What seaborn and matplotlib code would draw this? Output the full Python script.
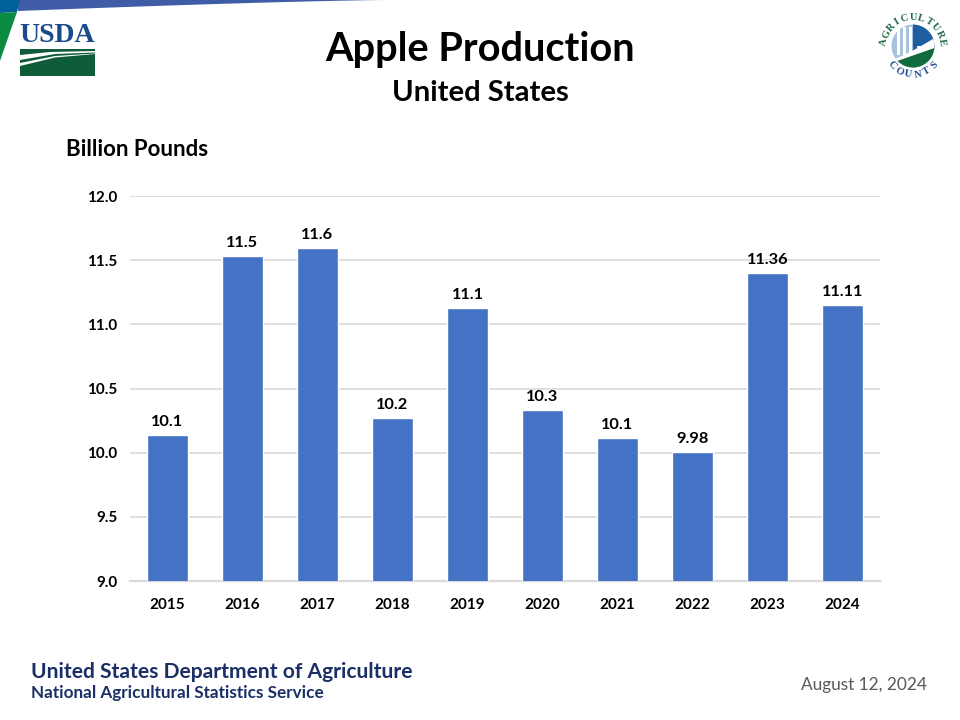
import numpy as np
import pandas as pd
import matplotlib
matplotlib.use("Agg")
import matplotlib.pyplot as plt
from matplotlib.patches import Circle, Polygon, Rectangle, Wedge
import seaborn as sns

years = ["2015", "2016", "2017", "2018", "2019", "2020", "2021", "2022", "2023", "2024"]
production = [10.135, 11.53, 11.595, 10.27, 11.125, 10.33, 10.115, 10.005, 11.4, 11.15]
bar_labels = ["10.1", "11.5", "11.6", "10.2", "11.1", "10.3", "10.1", "9.98", "11.36", "11.11"]
y_ticks = [9.0, 9.5, 10.0, 10.5, 11.0, 11.5, 12.0]

BAR_COLOR = "#4472C4"
GRID_COLOR = "#D9D9D9"
NAVY = "#1B2F66"
LOGO_GREEN = "#0F5C38"
LOGO_BLUE = "#1B4B8C"

sns.set_theme(style="white")
plt.rcParams["font.family"] = ["Lato", "DejaVu Sans"]

W, H = 960, 720
fig = plt.figure(figsize=(W / 100, H / 100), dpi=100, facecolor="white")

# overlay in pixel coords for the slide furniture
deco = fig.add_axes([0, 0, 1, 1])
deco.set_xlim(0, W)
deco.set_ylim(H, 0)
deco.axis("off")

# top band
xs = np.linspace(18, 385, 40)
edge = 11 * (1 - (xs - 18) / 367) ** 1.3
deco.add_patch(Polygon(list(zip(xs, edge)) + [(385, 0), (18, 0)], color="#3F5CA6", lw=0))
deco.add_patch(Polygon([(0, 0), (20, 0), (17, 12), (0, 13)], color="#00609A", lw=0))
deco.add_patch(Polygon([(0, 13), (17, 12), (0, 61)], color="#0B8A43", lw=0))

# USDA logo
deco.text(57.5, 36, "USDA", family="Liberation Serif", fontsize=20, fontweight="bold",
          color=LOGO_BLUE, ha="center", va="center")
deco.add_patch(Polygon([(20, 49), (95, 49), (95, 51), (50, 52), (20, 55)], color=LOGO_GREEN, lw=0))
deco.add_patch(Polygon([(20, 60), (55, 54), (95, 52.5), (95, 53.5), (55, 56), (20, 63)],
                       color=LOGO_GREEN, lw=0))
deco.add_patch(Polygon([(20, 66), (55, 57.5), (95, 54), (95, 76), (20, 76)], color=LOGO_GREEN, lw=0))

# Agriculture Counts logo
cx, cy = 913, 46
r = 21.5
clip = Circle((cx, cy), r, transform=deco.transData)
deco.add_patch(Wedge((cx, cy), r, -90, 90, color="#1F5FA0", lw=0))
deco.add_patch(Wedge((cx, cy), r, 90, 270, color="#A9C3DF", lw=0))
for bx in (897, 903, 909):
    deco.add_patch(Rectangle((bx, 27), 2.5, 28, color="white", lw=0))
deco.add_patch(Wedge((923, 46), 6, 0, 180, color="white", lw=0))
sw = np.linspace(cx - r, cx + r, 30)
t = (sw - sw[0]) / (sw[-1] - sw[0])
upper = 60 - 22 * t ** 1.2
lower = 63 - 15 * t
band = deco.add_patch(Polygon(list(zip(sw, upper)) + [(cx + r, 70), (cx - r, 70)], color="white", lw=0))
green = deco.add_patch(Polygon(list(zip(sw, lower)) + [(cx + r, 70), (cx - r, 70)], color="#0F6B3E", lw=0))
band.set_clip_path(clip)
green.set_clip_path(clip)


def arc_text(word, start, stop, radius, color):
    for ch, ang in zip(word, np.linspace(start, stop, len(word))):
        a = np.radians(ang)
        top = np.sin(a) > 0
        rot = ang - 90 if top else ang + 90
        deco.text(cx + radius * np.cos(a), cy - radius * np.sin(a), ch,
                  family="Liberation Serif", fontsize=7.5, fontweight="bold", color=color,
                  ha="center", va="center", rotation=rot)


arc_text("AGRICULTURE", 172, 8, 29, "#1F6B4A")
arc_text("COUNTS", 222, 318, 29, LOGO_BLUE)

# titles
deco.text(480, 49, "Apple Production", fontsize=28.6, fontweight="bold", color="black",
          ha="center", va="center")
deco.text(480, 93, "United States", fontsize=21.1, fontweight="bold", color="black",
          ha="center", va="center")
deco.text(66, 149, "Billion Pounds", fontsize=16, fontweight="bold", color="black",
          ha="left", va="center")

# footer
deco.text(31, 672, "United States Department of Agriculture", fontsize=15.1, fontweight="bold",
          color=NAVY, ha="left", va="center")
deco.text(31, 693, "National Agricultural Statistics Service", fontsize=12.3, fontweight="bold",
          color=NAVY, ha="left", va="center")
deco.text(927, 685, "August 12, 2024", fontsize=12.4, color="#595959", ha="right", va="center")

# chart
ax = fig.add_axes([130 / W, 1 - 581 / H, 750 / W, 385 / H])
ax.patch.set_alpha(0)
df = pd.DataFrame({"year": years, "production": production})
sns.barplot(data=df, x="year", y="production", color=BAR_COLOR, saturation=1,
            width=0.54, ax=ax, zorder=3)
ax.set_ylim(9, 12)
ax.set_yticks(y_ticks)
ax.set_yticklabels([f"{v:.1f}" for v in y_ticks])
ax.set_xlabel("")
ax.set_ylabel("")
ax.grid(axis="y", color=GRID_COLOR, lw=1.2, zorder=0)
ax.grid(axis="x", visible=False)
ax.set_axisbelow(True)
for side in ("top", "right", "left"):
    ax.spines[side].set_visible(False)
ax.spines["bottom"].set_color(GRID_COLOR)
ax.spines["bottom"].set_linewidth(1.6)
ax.tick_params(axis="both", length=0, labelsize=11, labelcolor="black")
ax.tick_params(axis="x", pad=12.5)
ax.tick_params(axis="y", pad=9)
for lab in ax.get_xticklabels() + ax.get_yticklabels():
    lab.set_fontweight("bold")

ax.bar_label(ax.containers[0], labels=bar_labels, padding=4.5, fontsize=11.8,
             fontweight="bold", color="black")

fig.savefig("out.png", dpi=100, facecolor="white")
